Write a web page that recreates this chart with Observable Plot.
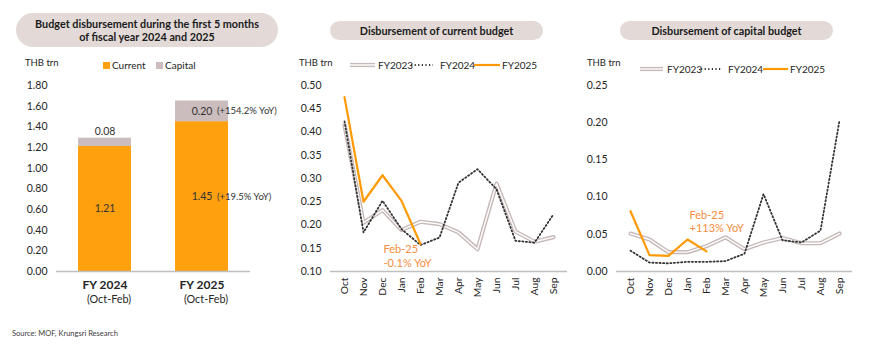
<!DOCTYPE html>
<html><head><meta charset="utf-8">
<script src="https://cdn.jsdelivr.net/npm/d3@7"></script>
<script src="https://cdn.jsdelivr.net/npm/@observablehq/plot@0.6"></script>
<style>
body{margin:0;background:#fff;font-family:Lato,"Noto Sans",sans-serif;color:#262626}
#wrap{position:relative;width:870px;height:351px;overflow:hidden;background:#fff}
.pill{position:absolute;background:#E3DAD8;font-weight:bold;text-align:center;font-size:10.8px;color:#1a1a1a;display:flex;align-items:center;justify-content:center;line-height:1.25}
.abs{position:absolute;font-size:10px;white-space:nowrap;line-height:12px;color:#262626}
.plot{position:absolute;top:0;overflow:visible}
svg.leg{position:absolute;overflow:visible}
</style></head><body><div id="wrap"></div>
<script>
// ---------- data ----------
const fiscalYears = ["FY 2024", "FY 2025"];
const periodLabel = "(Oct-Feb)";
const currentVals = [1.21, 1.45];
const capitalVals = [0.08, 0.20];
const yoyCurrent = [null, "(+19.5% YoY)"];
const yoyCapital = [null, "(+154.2% YoY)"];
const barTicks = [0, 0.2, 0.4, 0.6, 0.8, 1.0, 1.2, 1.4, 1.6, 1.8];

const months = ["Oct","Nov","Dec","Jan","Feb","Mar","Apr","May","Jun","Jul","Aug","Sep"];
const cur2023 = [0.415,0.205,0.232,0.189,0.207,0.202,0.184,0.148,0.289,0.186,0.164,0.174];
const cur2024 = [0.423,0.184,0.252,0.191,0.157,0.173,0.291,0.320,0.277,0.166,0.162,0.223];
const cur2025 = [0.475,0.250,0.307,0.252,0.159];
const curTicks = [0.10,0.15,0.20,0.25,0.30,0.35,0.40,0.45,0.50];
const curNote = "Feb-25\n-0.1% YoY";

const cap2023 = [0.051,0.043,0.026,0.026,0.034,0.046,0.030,0.039,0.045,0.038,0.038,0.051];
const cap2024 = [0.028,0.012,0.011,0.013,0.013,0.014,0.024,0.104,0.042,0.039,0.055,0.203];
const cap2025 = [0.081,0.022,0.021,0.043,0.027];
const capTicks = [0,0.05,0.10,0.15,0.20,0.25];
const capNote = "Feb-25\n+113% YoY";

const seriesNames = ["FY2023","FY2024","FY2025"];

// ---------- styles ----------
const ORANGE = "#FFA00F", LINE_OR = "#FF9A05", GREYBAR = "#CBBDBD", GREYLINE = "#C8B9B9", NOTE = "#F58D3D";
const DOTS = "1.2,2.4";
const DOTC = "#333";
const fmt2 = d3.format(".2f");
const wrap = document.getElementById("wrap");

function addDiv(cls, html, css){
  const d = document.createElement("div");
  d.className = cls; d.innerHTML = html;
  Object.assign(d.style, css); wrap.appendChild(d); return d;
}

// ---------- left: stacked bars ----------
const stacked = [];
fiscalYears.forEach((fy,i)=>{
  stacked.push({fy, type:"Current", v: currentVals[i]});
  stacked.push({fy, type:"Capital", v: capitalVals[i]});
});
const curLabels = fiscalYears.map((fy,i)=>({fy, y: currentVals[i]/2, t: fmt2(currentVals[i]), yoy: yoyCurrent[i]}));
const capSmall = fiscalYears.map((fy,i)=>({fy, y: currentVals[i] + capitalVals[i], t: fmt2(capitalVals[i]), v: capitalVals[i]})).filter(d=>d.v < 0.1);
const capBig = fiscalYears.map((fy,i)=>({fy, y: currentVals[i] + capitalVals[i]/2, t: fmt2(capitalVals[i]), v: capitalVals[i], yoy: yoyCapital[i]})).filter(d=>d.v >= 0.1);

const left = Plot.plot({
  width: 290, height: 351, marginLeft: 56, marginRight: 40, marginTop: 85, marginBottom: 80,
  style: {fontFamily: "Lato", fontSize: "10px", color: "#262626", background: "transparent", overflow: "visible"},
  x: {domain: fiscalYears, paddingInner: 0.45, paddingOuter: 0.225, axis: null},
  y: {domain: [0, 1.8], axis: null},
  color: {domain: ["Current","Capital"], range: [ORANGE, GREYBAR]},
  marks: [
    Plot.axisY({ticks: barTicks, tickSize: 0, tickPadding: 9, tickFormat: fmt2, label: null, fontSize: 10.5}),
    Plot.barY(stacked, {x: "fy", y: "v", fill: "type"}),
    Plot.ruleY([0], {stroke: "#BFBFBF", strokeWidth: 1.5}),
    Plot.text(curLabels, {x: "fy", y: "y", text: "t", fontSize: 10.5, fill: "#333"}),
    Plot.text(curLabels.filter(d=>d.yoy), {x: "fy", y: "y", text: "yoy", dx: 15, textAnchor: "start", fontSize: 9.5, fill: "#333"}),
    Plot.text(capSmall, {x: "fy", y: "y", text: "t", dy: -7, fontSize: 10.5, fill: "#333"}),
    Plot.text(capBig, {x: "fy", y: "y", text: "t", fontSize: 10.5, fill: "#333"}),
    Plot.text(capBig.filter(d=>d.yoy), {x: "fy", y: "y", text: "yoy", dx: 15, textAnchor: "start", fontSize: 9.5, fill: "#333"}),
    Plot.text(fiscalYears, {x: d=>d, frameAnchor: "bottom", dy: 17, text: d=>d, fontWeight: "bold", fontSize: 12, fill: "#262626"}),
    Plot.text(fiscalYears, {x: d=>d, frameAnchor: "bottom", dy: 31, dx: 4, text: d=>periodLabel, fontSize: 10.8, fill: "#262626"})
  ]
});
left.classList.add("plot"); left.style.left = "0px";
wrap.appendChild(left);

// ---------- line charts ----------
function lineChart({v23, v24, v25, domain, ticks, ml, mr, note, ndx, ndy}){
  const rows = s => s.map((v,i)=>({m: months[i], v}));
  const last = [{m: months[v25.length-1], v: v25[v25.length-1], t: note}];
  return Plot.plot({
    width: 290, height: 351, marginLeft: ml, marginRight: mr, marginTop: 85, marginBottom: 80,
    style: {fontFamily: "Lato", fontSize: "10px", color: "#262626", background: "transparent", overflow: "visible"},
    x: {type: "point", domain: months, padding: 0.5, axis: null},
    y: {domain, axis: null},
    marks: [
      Plot.axisY({ticks, tickSize: 0, tickPadding: 9, tickFormat: fmt2, label: null, fontSize: 10.5}),
      Plot.axisX({tickSize: 0, tickPadding: 6, tickRotate: -90, label: null, fontSize: 10.3}),
      Plot.ruleY([domain[0]], {stroke: "#BFBFBF", strokeWidth: 1.3}),
      Plot.line(rows(v23), {x: "m", y: "v", stroke: GREYLINE, strokeWidth: 4.2}),
      Plot.line(rows(v23), {x: "m", y: "v", stroke: "#fff", strokeWidth: 1.4}),
      Plot.line(rows(v24), {x: "m", y: "v", stroke: DOTC, strokeWidth: 1.8, strokeDasharray: DOTS}),
      Plot.line(rows(v25), {x: "m", y: "v", stroke: LINE_OR, strokeWidth: 2.2}),
      Plot.text(last, {x: "m", y: "v", text: "t", dx: ndx, dy: ndy, textAnchor: "start", lineAnchor: "top", fill: NOTE, fontSize: 11, lineHeight: 1.2})
    ]
  });
}
const mid = lineChart({v23: cur2023, v24: cur2024, v25: cur2025, domain: [0.10, 0.50], ticks: curTicks, ml: 40, mr: 13, note: curNote, ndx: -37, ndy: 0});
mid.classList.add("plot"); mid.style.left = "290px"; wrap.appendChild(mid);
const right = lineChart({v23: cap2023, v24: cap2024, v25: cap2025, domain: [0, 0.25], ticks: capTicks, ml: 36, mr: 18, note: capNote, ndx: -17, ndy: -42});
right.classList.add("plot"); right.style.left = "580px"; wrap.appendChild(right);

// ---------- titles ----------
addDiv("pill", "Budget disbursement during the first 5 months<br>of fiscal year 2024 and 2025",
  {left: "16px", top: "13px", width: "262px", height: "34px", borderRadius: "17px"});
addDiv("pill", "Disbursement of current budget", {left: "330px", top: "21px", width: "213px", height: "19px", borderRadius: "10px"});
addDiv("pill", "Disbursement of capital budget", {left: "620px", top: "21px", width: "213px", height: "19px", borderRadius: "10px"});

addDiv("abs", "THB trn", {left: "25px", top: "57px", fontSize: "9.5px"});
addDiv("abs", "THB trn", {left: "299px", top: "57px", fontSize: "9.5px"});
addDiv("abs", "THB trn", {left: "587px", top: "57px", fontSize: "9.5px"});

// left legend
const legBar = [{name: "Current", c: ORANGE, x: 103}, {name: "Capital", c: GREYBAR, x: 156}];
legBar.forEach(l=>{
  addDiv("abs", "", {left: l.x+"px", top: "62px", width: "7px", height: "7px", background: l.c});
  addDiv("abs", l.name, {left: (l.x+9)+"px", top: "59px"});
});

// line legends
function lineLegend(y, xs){
  const styles = [
    {stroke: GREYLINE, w: 4.2, inner: true},
    {stroke: DOTC, w: 1.8, dash: DOTS},
    {stroke: LINE_OR, w: 2.2}
  ];
  seriesNames.forEach((name,i)=>{
    const [x0, x1, tx] = xs[i];
    const s = styles[i];
    const svg = document.createElementNS("http://www.w3.org/2000/svg","svg");
    svg.setAttribute("class","leg"); svg.setAttribute("width", x1-x0); svg.setAttribute("height", 6);
    svg.style.left = x0+"px"; svg.style.top = (y-3)+"px";
    let html = `<line x1="0" x2="${x1-x0}" y1="3" y2="3" stroke="${s.stroke}" stroke-width="${s.w}" ${s.dash?`stroke-dasharray="${s.dash}"`:""}/>`;
    if (s.inner) html += `<line x1="0" x2="${x1-x0}" y1="3" y2="3" stroke="#fff" stroke-width="1.4"/>`;
    svg.innerHTML = html; wrap.appendChild(svg);
    addDiv("abs", name, {left: tx+"px", top: (y-6)+"px"});
  });
}
lineLegend(65, [[350,375,378],[411,433,440],[474,500,502]]);
lineLegend(69, [[640,663,667],[701,721,728],[763,788,790]]);

addDiv("abs", "Source: MOF, Krungsri Research", {left: "12px", top: "328px", fontSize: "7.5px", color: "#404040"});
</script></body></html>
